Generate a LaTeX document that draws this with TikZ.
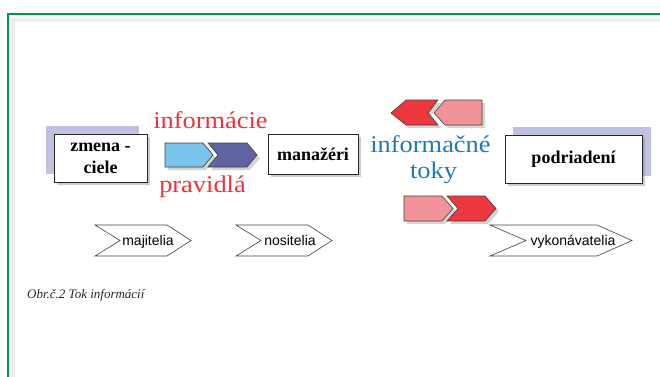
\documentclass[tikz,border=0pt]{standalone}
\usepackage{fontspec}
\setmainfont{Liberation Serif}
\newfontfamily\tagfont{Liberation Sans}
\newfontfamily\widefont[FakeStretch=1.1]{Liberation Serif}
\usetikzlibrary{shadows}
\usetikzlibrary{positioning}

\definecolor{framegreen}{RGB}{0,150,80}
\definecolor{lavender}{RGB}{192,192,226}
\definecolor{lightblue}{RGB}{122,196,235}
\definecolor{darkblue}{RGB}{95,100,160}
\definecolor{flowred}{RGB}{236,56,62}
\definecolor{flowpink}{RGB}{241,146,152}
\definecolor{textred}{RGB}{236,50,60}
\definecolor{textblue}{RGB}{30,122,182}

\begin{document}
\begin{tikzpicture}[x=1pt,y=-1pt,
  box/.style={draw=black!85,fill=white,line width=0.8pt,inner sep=0pt,
    font=\fontsize{18}{22}\selectfont\bfseries,align=center,
    drop shadow={opacity=0.4,shadow xshift=3pt,shadow yshift=-3pt}},
  backbox/.style={fill=lavender,inner sep=0pt},
  chevron/.style={draw=black!75,line width=0.6pt,
    drop shadow={opacity=0.35,shadow xshift=3pt,shadow yshift=-3pt}},
  tag/.style={draw=black!75,fill=white,line width=0.6pt},
  tagtext/.style={font=\tagfont\fontsize{14}{16}\selectfont,anchor=base},
  redword/.style={text=textred,font=\widefont\fontsize{24}{26}\selectfont,anchor=base},
  blueword/.style={text=textblue,font=\widefont\fontsize{24}{26}\selectfont,anchor=base}]

  \useasboundingbox (0,0) rectangle (660,376);

  % frame
  \draw[black!7,line width=4pt] (13,380) -- (13,20) -- (665,20);
  \draw[framegreen,line width=2pt] (8,380) -- (8,14) -- (665,14);

  % boxes
  \node[backbox,minimum width=93,minimum height=48] (zmenabg) at (92.5,150) {};
  \node[box,minimum width=93,minimum height=48] (zmena) at (100.5,158) {zmena -\\ciele};
  \node[box,minimum width=90,minimum height=40] (manazeri) at (313,154) {manažéri};
  \node[backbox,minimum width=138,minimum height=49] (podbg) at (582,151.5) {};
  \node[box,minimum width=137,minimum height=48] (podriadeni) at (573.5,159) {podriadení};

  % blue chevrons
  \draw[chevron,fill=lightblue] (165,143) -- (203,143) -- (213,155) -- (203,167) -- (165,167) -- cycle;
  \draw[chevron,fill=darkblue] (208,143) -- (247,143) -- (257,155) -- (247,167) -- (208,167) -- (218,155) -- cycle;

  % red chevrons, top (to the left)
  \draw[chevron,fill=flowred] (391,113) -- (406,100) -- (438,100) -- (428,113) -- (438,125) -- (406,125) -- cycle;
  \draw[chevron,fill=flowpink] (434,113) -- (445,100) -- (482,100) -- (482,125) -- (445,125) -- cycle;

  % red chevrons, bottom (to the right)
  \draw[chevron,fill=flowpink] (404,196) -- (442,196) -- (453,208.5) -- (442,221) -- (404,221) -- cycle;
  \draw[chevron,fill=flowred] (447,196) -- (485,196) -- (496,208.5) -- (485,221) -- (447,221) -- (458,208.5) -- cycle;

  % words
  \node[redword] (informacie) at (210.5,128) {informácie};
  \node[redword] (pravidla) at (202.5,192) {pravidlá};
  \node[blueword] (informacne) at (430.5,152) {informačné};
  \node[blueword] (toky) at (433.5,178) {toky};

  % tags
  \draw[tag] (95,225) -- (167,225) -- (191,240.5) -- (167,256) -- (95,256) -- (120,240.5) -- cycle;
  \draw[tag] (236,225) -- (308,225) -- (332,240.5) -- (308,256) -- (236,256) -- (261,240.5) -- cycle;
  \draw[tag] (490,225) -- (597,225) -- (632,240.5) -- (597,256) -- (490,256) -- (526,240.5) -- cycle;
  \node[tagtext] (majitelia) at (148,245) {majitelia};
  \node[tagtext] (nositelia) at (290,245) {nositelia};
  \node[tagtext] (vykonavatelia) at (573,245) {vykonávatelia};

  % caption
  \node[anchor=base west,inner sep=0pt,text=black!85,font=\itshape\fontsize{13}{15}\selectfont] (caption) at (27,298) {Obr.č.2 Tok informácií};
\end{tikzpicture}
\end{document}
